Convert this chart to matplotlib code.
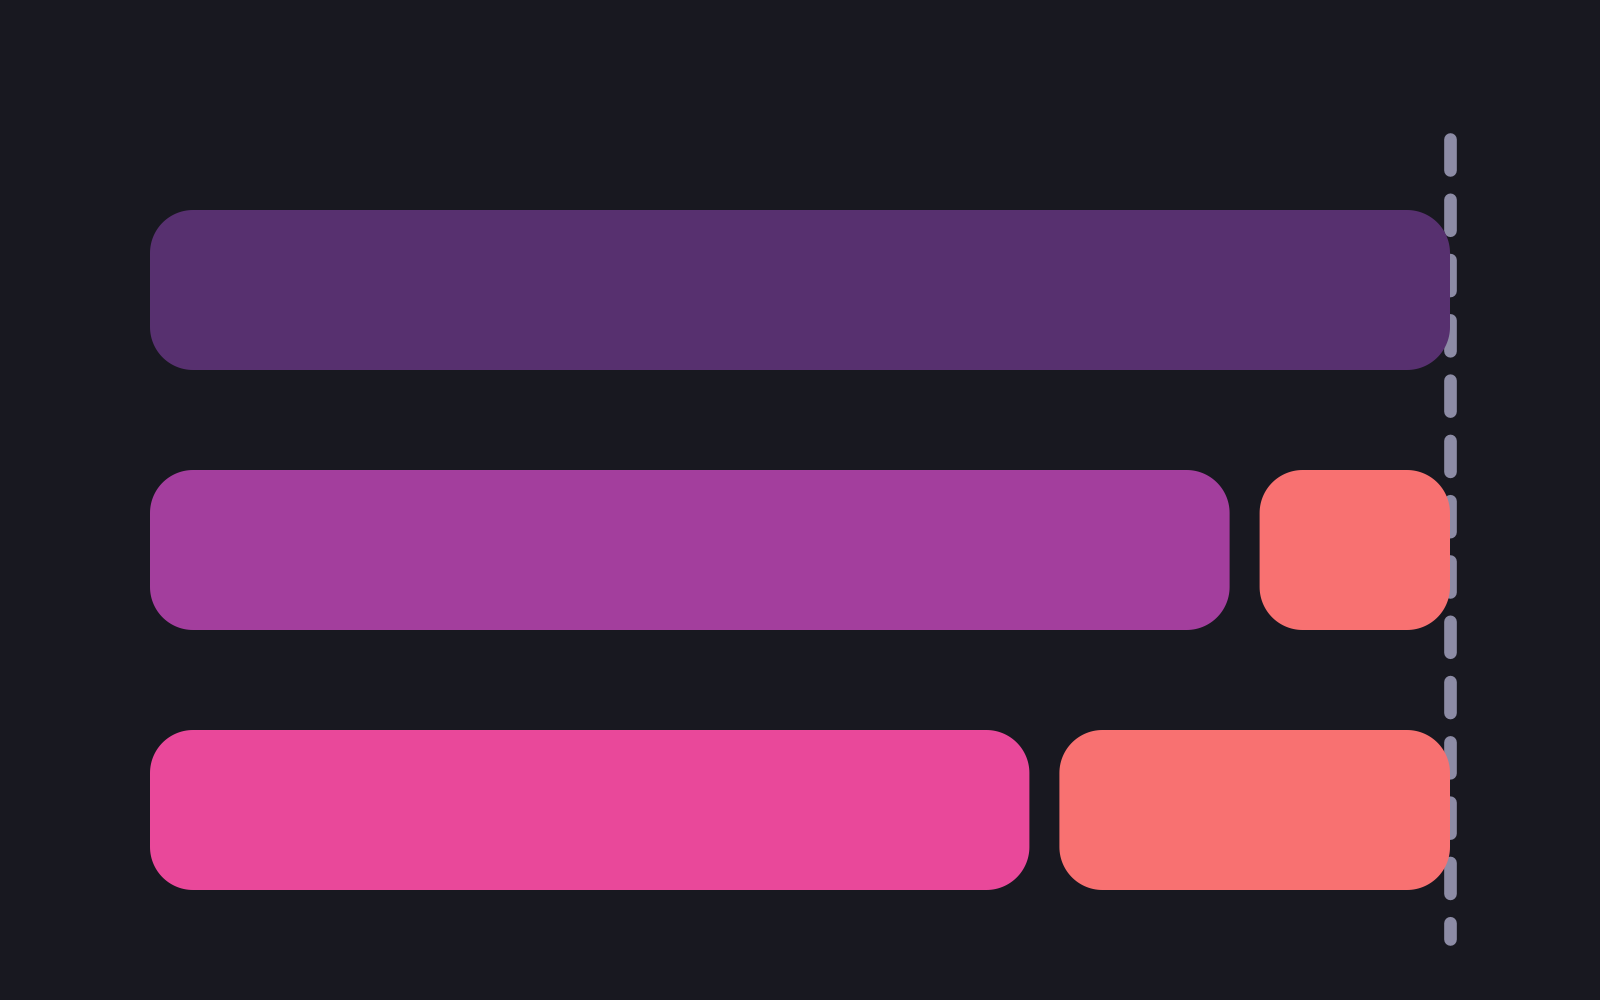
import numpy as np
import matplotlib
matplotlib.use("Agg")
import matplotlib.pyplot as plt
from matplotlib.patches import Polygon

# Data: primary segment and remainder per row (percent)
rows = ["Row 1", "Row 2", "Row 3"]
primary = [100, 84.2, 68.8]
remainder = [0, 15.8, 31.2]
target = 100

row_colors = ["#57306f", "#a33e9d", "#e9489a"]
remainder_color = "#f87171"
bg = "#181820"
line_color = "#8d8ca6"

W, H, DPI = 16, 10, 100
fig = plt.figure(figsize=(W, H), dpi=DPI, facecolor=bg)
# axes placed in pixels: x 150..1450, y 139..939 (from top)
ax = fig.add_axes([150 / 1600, 1 - 939 / 1000, 1300 / 1600, 800 / 1000])
ax.set_facecolor(bg)
ax.set_xlim(0, target)
y_top, y_bot = -151 / 260, 2 + 129 / 260
ax.set_ylim(y_bot, y_top)
ax.axis("off")

bar_h = 160 / 260
gap = 30 / 1300 * target      # gap between segments in data units
rx = 43 / 1300 * target       # corner radius, x units
ry = 43 / 260                 # corner radius, y units


def rounded_bar(x0, x1, y, color):
    y0, y1 = y - bar_h / 2, y + bar_h / 2
    t = np.linspace(0, np.pi / 2, 30)
    pts = []
    # corners: (cx, cy, start angle)
    for cx, cy, a0 in [(x1 - rx, y0 + ry, -np.pi / 2), (x1 - rx, y1 - ry, 0),
                       (x0 + rx, y1 - ry, np.pi / 2), (x0 + rx, y0 + ry, np.pi)]:
        a = a0 + t
        pts.append(np.column_stack([cx + rx * np.cos(a), cy + ry * np.sin(a)]))
    ax.add_patch(Polygon(np.vstack(pts), closed=True, facecolor=color,
                         edgecolor="none", zorder=3))


for i, (p, r) in enumerate(zip(primary, remainder)):
    if r > 0:
        rounded_bar(0, p - gap / 2, i, row_colors[i])
        rounded_bar(p + gap / 2, p + r, i, remainder_color)
    else:
        rounded_bar(0, p, i, row_colors[i])

# dashed target line behind the bars, drawn top to bottom
ax.plot([target, target], [y_top, y_bot], color=line_color, lw=9.1,
        ls=(0, (2.45, 2.32)), dash_capstyle="round", zorder=1,
        clip_on=False)

fig.savefig("out.png", dpi=DPI, facecolor=bg)
